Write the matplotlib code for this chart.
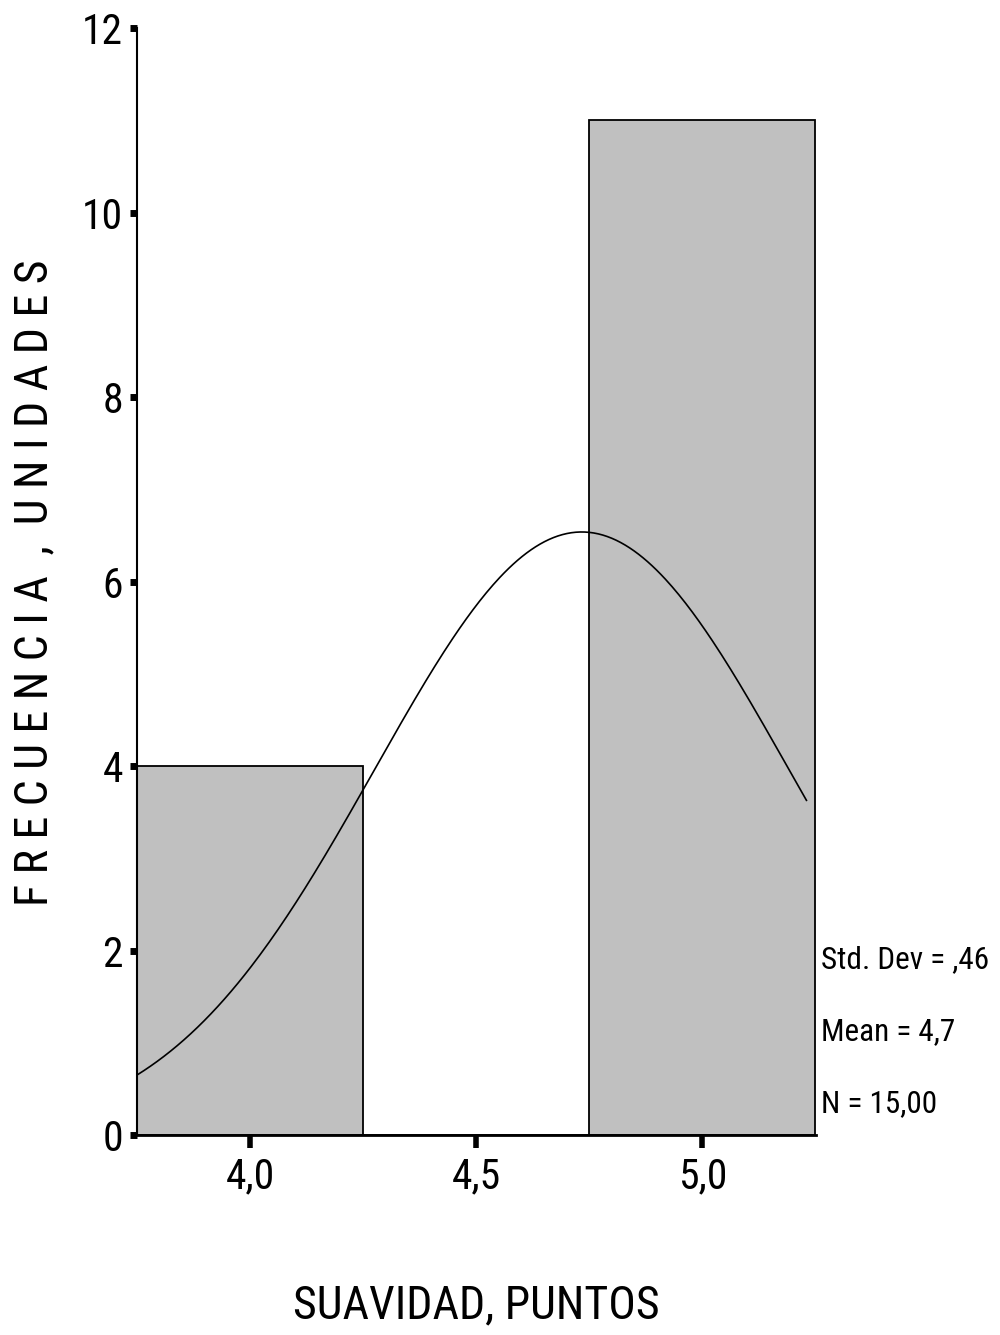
import numpy as np
import matplotlib
matplotlib.use("Agg")
import matplotlib.pyplot as plt
from matplotlib import font_manager

# histogram data (SPSS style output)
bin_edges = [3.75, 4.25, 4.75, 5.25]
counts = [4, 0, 11]
std_dev = 0.4577
mean = 4.7333
n_obs = 15
x_ticks = [4.0, 4.5, 5.0]
x_ticklabels = ["4,0", "4,5", "5,0"]
y_ticks = [0, 2, 4, 6, 8, 10, 12]
stats_text = ["Std. Dev = ,46", "Mean = 4,7", "N = 15,00"]

names = {f.name for f in font_manager.fontManager.ttflist}
fam = [f for f in ["Liberation Sans Narrow", "Roboto Condensed", "Archivo Narrow",
                   "Barlow Condensed", "DejaVu Sans"] if f in names]
plt.rcParams['font.family'] = fam

fig = plt.figure(figsize=(10, 13.35), dpi=100)
ax = fig.add_axes([0.137, 0.1498, 0.6785, 0.8292])

widths = np.diff(bin_edges)
ax.bar(bin_edges[:-1], counts, width=widths, align='edge', color='#c0c0c0',
       edgecolor='black', linewidth=1.3, zorder=2)

# normal curve scaled to counts
bw = widths[0]
xs = np.linspace(bin_edges[0], 5.23, 300)
ys = n_obs * bw / (std_dev * np.sqrt(2 * np.pi)) * np.exp(-0.5 * ((xs - mean) / std_dev) ** 2)
ax.plot(xs, ys, color='black', linewidth=1.2, zorder=3)

ax.set_xlim(bin_edges[0], bin_edges[-1])
ax.set_ylim(0, 12)
ax.set_xticks(x_ticks)
ax.set_xticklabels(x_ticklabels)
ax.set_yticks(y_ticks)
for s in ['top', 'right']:
    ax.spines[s].set_visible(False)
ax.spines['left'].set_linewidth(1.5)
ax.spines['bottom'].set_linewidth(2)
ax.tick_params(axis='y', direction='out', length=5, width=5, labelsize=30, pad=5)
ax.tick_params(axis='x', direction='out', length=9, width=4, labelsize=30, pad=6)

fig.text(0.476, 1 - 1305 / 1335, "SUAVIDAD, PUNTOS", fontsize=33,
         ha='center', va='center')
fig.text(0.034, 1 - 583 / 1335, "F R E C U E N C I A  ,  U N I D A D E S",
         fontsize=33, rotation=90, ha='center', va='center')

for i, t in enumerate(stats_text):
    ax.text(1.008, 0.158 - i * 0.065, t, transform=ax.transAxes, fontsize=22.5,
            va='center', ha='left')

fig.savefig("out.png", dpi=100)
